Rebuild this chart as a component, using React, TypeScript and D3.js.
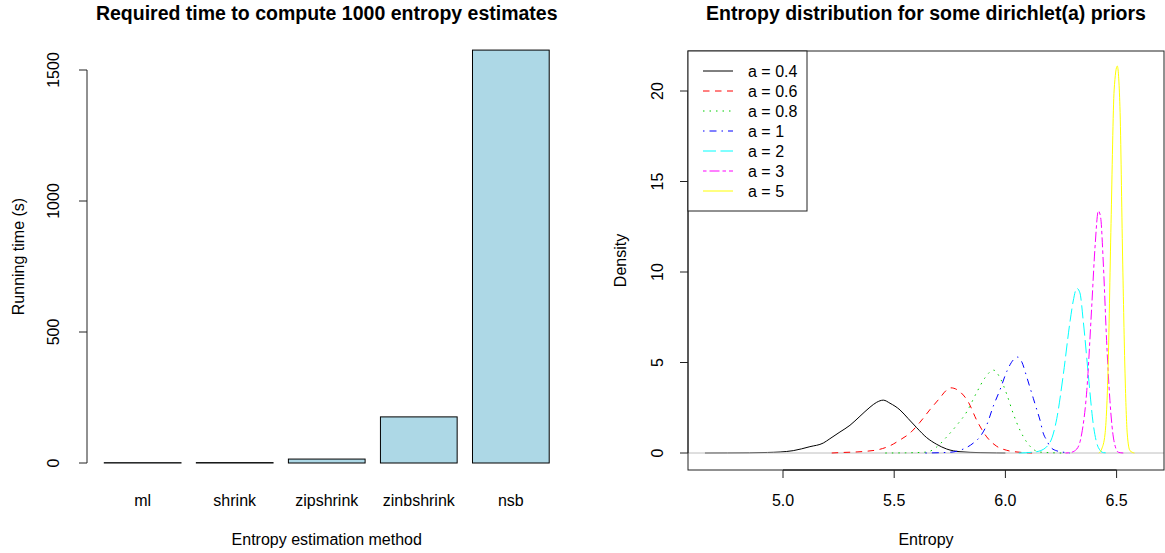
import * as d3 from 'd3';

// left panel: running time per estimator
const methods = ['ml', 'shrink', 'zipshrink', 'zinbshrink', 'nsb'];
const runTimes = [1.2, 1.5, 15, 176, 1576];
const timeTicks = [0, 500, 1000, 1500];

// right panel: density of entropy under dirichlet(a) priors
const priorLabels = ['a = 0.4', 'a = 0.6', 'a = 0.8', 'a = 1', 'a = 2', 'a = 3', 'a = 5'];
const entropyTicks = [5.0, 5.5, 6.0, 6.5];
const densityTicks = [0, 5, 10, 15, 20];

const dens04x = [4.649, 4.75, 4.85, 4.93, 4.987, 5.046, 5.121, 5.181, 5.211, 5.256, 5.301, 5.346, 5.391, 5.421, 5.451, 5.481, 5.526, 5.563, 5.601, 5.646, 5.691, 5.736, 5.796, 5.886, 5.96, 6.0];
const dens04y = [0, 0.003, 0.01, 0.03, 0.055, 0.13, 0.35, 0.55, 0.79, 1.16, 1.53, 2.03, 2.53, 2.8, 2.92, 2.75, 2.38, 1.9, 1.4, 0.85, 0.48, 0.22, 0.07, 0.02, 0.005, 0];
const dens06x = [5.219, 5.27, 5.333, 5.378, 5.427, 5.481, 5.526, 5.571, 5.616, 5.661, 5.706, 5.733, 5.755, 5.796, 5.833, 5.871, 5.916, 5.961, 6.006, 6.066, 6.12];
const dens06y = [0, 0.03, 0.06, 0.1, 0.18, 0.4, 0.72, 1.1, 1.7, 2.4, 3.05, 3.45, 3.6, 3.38, 2.82, 1.81, 0.89, 0.37, 0.15, 0.04, 0];
const dens08x = [5.46, 5.55, 5.646, 5.691, 5.736, 5.781, 5.826, 5.871, 5.908, 5.946, 5.976, 6.006, 6.036, 6.066, 6.096, 6.126, 6.156, 6.254];
const dens08y = [0, 0.01, 0.05, 0.33, 0.89, 1.53, 2.27, 3.35, 4.15, 4.58, 4.15, 3.25, 2.15, 1.25, 0.6, 0.2, 0.05, 0];
const dens1x = [5.64, 5.75, 5.796, 5.856, 5.886, 5.916, 5.946, 5.976, 6.006, 6.036, 6.055, 6.073, 6.096, 6.111, 6.126, 6.141, 6.156, 6.17, 6.186, 6.201, 6.231, 6.276, 6.29];
const dens1y = [0, 0.04, 0.15, 0.55, 0.9, 1.55, 2.6, 3.5, 4.5, 5.15, 5.3, 5.05, 4.2, 3.6, 3.0, 2.4, 1.8, 1.1, 0.7, 0.35, 0.12, 0.02, 0];
const dens2x = [6.06, 6.12, 6.156, 6.201, 6.231, 6.26, 6.291, 6.305, 6.321, 6.335, 6.35, 6.373, 6.395, 6.418, 6.441, 6.47];
const dens2y = [0, 0.04, 0.12, 0.6, 1.9, 4.3, 7.3, 8.4, 9.1, 8.85, 7.3, 4.3, 1.6, 0.3, 0.02, 0];
const dens3x = [6.27, 6.291, 6.321, 6.343, 6.366, 6.388, 6.403, 6.418, 6.428, 6.441, 6.455, 6.47, 6.488, 6.508, 6.53];
const dens3y = [0, 0.02, 0.22, 1.05, 3.45, 8.06, 11.38, 13.38, 13.04, 10.28, 6.22, 2.9, 0.68, 0.04, 0];
const dens5x = [6.42, 6.433, 6.448, 6.461, 6.475, 6.489, 6.503, 6.515, 6.527, 6.538, 6.548, 6.56, 6.58];
const dens5y = [0, 0.22, 1.05, 4.37, 12.68, 20.06, 21.38, 19.13, 10.83, 4.37, 1.05, 0.13, 0];

const densX = [dens04x, dens06x, dens08x, dens1x, dens2x, dens3x, dens5x];
const densY = [dens04y, dens06y, dens08y, dens1y, dens2y, dens3y, dens5y];
const colors = ['#000000', '#FF0000', '#00CD00', '#0000FF', '#00FFFF', '#FF00FF', '#FFFF00'];
const dashes = ['none', '6.5 5.5', '1.5 5', '1.5 5 7 5', '13 4.5', '3.5 3 10 3', 'none'];

const font = '"Liberation Sans", Arial, Helvetica, sans-serif';

export default function App() {
  const width = 1165;
  const height = 553;

  // left panel scales (barplot units: width 1, space 0.2)
  const xL = d3.scaleLinear().domain([0.2, 6.0]).range([104.3, 549.2]);
  const yL = d3.scaleLinear().domain([0, 1500]).range([463, 70]);
  const axisL = 87;

  // right panel scales
  const box = { left: 688, right: 1164, top: 51, bottom: 470 };
  const xR = d3.scaleLinear().domain([5.0, 6.5]).range([783, 1116.6]);
  const yR = d3.scaleLinear().domain([0, 20]).range([453, 91]);

  const line = d3.line<[number, number]>()
    .x(d => xR(d[0]))
    .y(d => yR(d[1]))
    .curve(d3.curveMonotoneX);

  const paths = densX.map((xs, i) => line(xs.map((x, j) => [x, densY[i][j]] as [number, number])) || '');

  const curve = (i: number) => (
    <path key={i} d={paths[i]} fill="none" stroke={colors[i]} strokeWidth={1}
      strokeDasharray={dashes[i]} />
  );

  return (
    <svg width={width} height={height} style={{ position: 'absolute', left: 0, top: 0, background: 'white' }}
      fontFamily={font}>
      {/* ---- left: running times ---- */}
      <text x={(86.5 + 567) / 2} y={20} textAnchor="middle" fontSize={19.5} fontWeight="bold">
        Required time to compute 1000 entropy estimates
      </text>
      {methods.map((m, i) => {
        const l = 0.2 + 1.2 * i;
        const top = yL(runTimes[i]);
        return (
          <g key={m}>
            <rect x={xL(l)} y={top} width={xL(l + 1) - xL(l)} height={Math.max(yL(0) - top, 0.3)}
              fill="#ADD8E6" stroke="#000" strokeWidth={1} />
            <text x={xL(l + 0.5)} y={506} textAnchor="middle" fontSize={16}>{m}</text>
          </g>
        );
      })}
      <line x1={axisL} x2={axisL} y1={yL(0)} y2={yL(1500)} stroke="#222" />
      {timeTicks.map(t => (
        <g key={t}>
          <line x1={axisL - 8} x2={axisL} y1={yL(t)} y2={yL(t)} stroke="#222" />
          <text transform={`translate(59,${yL(t)}) rotate(-90)`} textAnchor="middle" fontSize={16}>{t}</text>
        </g>
      ))}
      <text transform={`translate(24,${(33.5 + 479.5) / 2}) rotate(-90)`} textAnchor="middle" fontSize={16}>
        Running time (s)
      </text>
      <text x={(86.5 + 567) / 2} y={545} textAnchor="middle" fontSize={16}>Entropy estimation method</text>

      {/* ---- right: entropy densities ---- */}
      <text x={(box.left + box.right) / 2} y={20} textAnchor="middle" fontSize={19.5} fontWeight="bold">
        Entropy distribution for some dirichlet(a) priors
      </text>
      <defs>
        <clipPath id="plotR">
          <rect x={box.left} y={box.top} width={box.right - box.left} height={box.bottom - box.top} />
        </clipPath>
      </defs>
      <g clipPath="url(#plotR)">
        {curve(0)}
        <line x1={box.left} x2={box.right} y1={yR(0)} y2={yR(0)} stroke="#BEBEBE" />
        {[1, 2, 3, 4, 5, 6].map(curve)}
      </g>
      <rect x={box.left} y={box.top} width={box.right - box.left} height={box.bottom - box.top}
        fill="none" stroke="#222" />
      {/* y axis */}
      <line x1={box.left} x2={box.left} y1={yR(0)} y2={yR(20)} stroke="#222" />
      {densityTicks.map(t => (
        <g key={t}>
          <line x1={box.left - 8} x2={box.left} y1={yR(t)} y2={yR(t)} stroke="#222" />
          <text transform={`translate(663,${yR(t)}) rotate(-90)`} textAnchor="middle" fontSize={16}>{t}</text>
        </g>
      ))}
      <text transform={`translate(626,${(box.top + box.bottom) / 2}) rotate(-90)`} textAnchor="middle" fontSize={16}>
        Density
      </text>
      {/* x axis */}
      <line x1={xR(5.0)} x2={xR(6.5)} y1={box.bottom} y2={box.bottom} stroke="#000" />
      {entropyTicks.map(t => (
        <g key={t}>
          <line x1={xR(t)} x2={xR(t)} y1={box.bottom} y2={box.bottom + 8} stroke="#222" />
          <text x={xR(t)} y={506} textAnchor="middle" fontSize={16}>{d3.format('.1f')(t)}</text>
        </g>
      ))}
      <text x={(box.left + box.right) / 2} y={545} textAnchor="middle" fontSize={16}>Entropy</text>
      {/* legend */}
      <rect x={box.left} y={box.top} width={807 - box.left} height={211 - box.top} fill="white" stroke="#222" />
      {priorLabels.map((lab, i) => (
        <g key={lab} transform={`translate(0,${71 + 20 * i})`}>
          <line x1={703} x2={733} y1={0} y2={0} stroke={colors[i]} strokeDasharray={dashes[i]} />
          <text x={748} y={0} dy="0.35em" fontSize={16}>{lab}</text>
        </g>
      ))}
    </svg>
  );
}
